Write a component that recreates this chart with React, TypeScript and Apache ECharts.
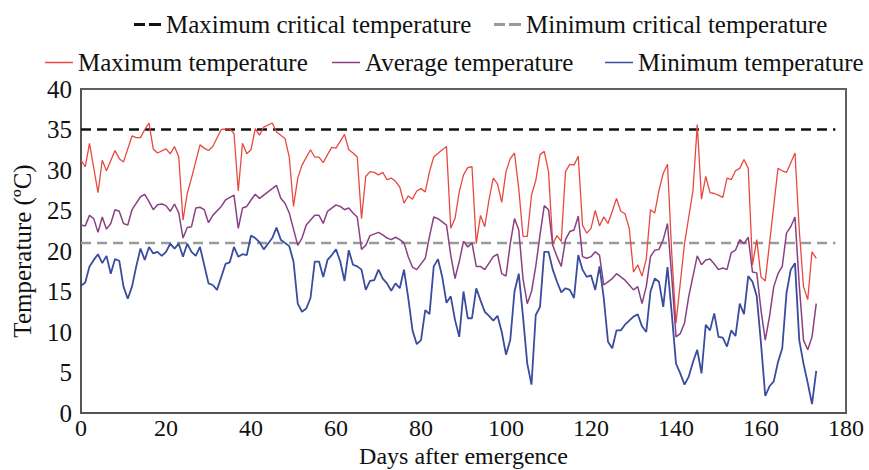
import { useEffect, useRef } from "react";
import * as echarts from "echarts";

// ---- data ----
const maxDays = [0,1,2,4,5,6,8,9,10,12,13,14,15,16,17,18,20,21,22,23,24,25,26,28,29,30,31,33,35,36,37,38,39,40,41,42,43,45,46,48,49,50,51,52,54,55,56,57,58,59,60,62,63,64,65,66,67,68,69,70,71,72,73,74,75,76,77,78,79,80,81,82,83,85,86,87,88,89,90,91,92,93,94,95,96,97,98,99,100,101,102,103,104,105,106,107,108,109,110,111,112,113,114,115,116,117,118,119,120,121,122,123,124,125,126,127,128,129,130,131,132,133,134,135,136,137,138,139,140,141,142,143,144,145,146,147,148,149,150,151,152,153,154,155,156,157,158,159,160,161,164,165,166,168,169,170,171,172,173];
const maxTemps = [31.2,30.4,33.3,27.2,31.2,29.9,32.4,31.4,31.0,34.2,34.0,34.0,35.0,35.8,32.6,32.1,32.6,32.0,32.9,31.6,23.8,27.1,29.0,33.1,32.7,32.4,32.9,35.0,35.1,34.5,27.4,33.3,32.0,32.5,35.1,34.3,35.3,35.8,34.7,33.9,31.6,25.5,29.0,30.6,32.5,31.6,31.6,30.9,31.9,32.8,32.7,34.4,32.5,32.1,31.6,24.0,29.2,29.8,29.7,29.4,29.7,28.8,29.0,28.6,27.9,25.9,26.8,26.4,27.4,27.7,27.3,29.8,31.6,32.5,32.9,22.8,24.0,27.3,29.4,30.3,30.4,20.9,24.4,23.0,26.3,29.0,28.3,26.0,29.8,31.4,32.1,27.7,21.8,21.8,26.9,28.7,31.9,32.3,29.8,20.9,21.9,21.2,29.8,30.7,30.6,31.7,23.2,22.2,22.8,25.0,23.1,24.2,23.4,24.9,26.5,24.9,24.6,22.8,17.4,18.3,16.9,19.0,25.1,24.7,27.5,29.6,30.7,19.7,11.1,16.0,20.9,24.2,27.5,35.6,26.4,29.2,27.2,27.1,26.9,26.6,29.0,28.8,29.9,30.2,31.3,30.2,18.3,21.4,16.8,16.3,30.2,29.9,29.7,32.1,22.6,15.6,14.0,19.9,19.1];

const avgDays = [0,1,2,3,4,5,6,7,8,9,10,11,12,14,15,16,17,18,19,20,21,22,23,24,25,26,27,28,29,30,31,33,34,36,37,38,39,40,41,42,44,46,47,48,49,51,52,53,55,56,57,58,60,61,62,63,64,65,66,67,68,70,71,72,73,74,75,76,77,78,79,81,82,83,84,86,87,88,89,90,91,92,93,94,95,96,97,98,99,100,101,102,103,104,105,106,107,108,109,110,111,112,113,114,115,116,117,118,119,120,121,122,123,124,125,126,127,128,129,130,131,132,133,134,135,136,137,138,139,140,141,142,143,145,146,147,148,149,150,151,152,153,154,155,156,157,158,159,160,161,162,163,164,165,166,167,168,169,170,171,172,173];
const avgTemps = [23.2,23.1,24.4,24.0,22.3,24.2,22.7,23.4,25.1,24.9,23.4,23.2,25.1,26.7,27.0,26.1,25.1,25.7,25.8,25.6,24.9,25.8,24.7,21.6,22.9,23.0,25.3,25.4,25.1,23.5,24.4,25.5,26.3,26.9,22.8,25.3,25.5,26.3,27.0,26.5,27.3,28.1,26.5,25.9,24.7,20.7,21.6,23.2,24.4,24.4,23.4,24.9,25.7,25.5,25.1,25.3,24.7,24.2,20.2,20.7,21.9,22.3,22.0,21.6,21.4,21.7,21.4,21.0,19.3,18.0,17.7,19.1,21.8,24.2,24.0,23.2,19.5,16.6,18.7,21.2,20.5,21.0,18.1,18.1,17.7,18.5,19.3,19.6,17.2,16.9,20.9,24.0,22.6,16.6,13.5,15.0,18.1,22.0,25.6,25.1,20.7,19.3,18.1,21.4,22.4,22.6,24.3,19.3,19.1,19.3,19.9,19.5,15.8,16.2,16.6,17.2,16.8,16.4,15.8,15.2,15.6,13.5,15.6,19.3,20.1,20.2,21.4,23.4,16.8,9.4,9.8,11.1,14.4,19.4,18.3,18.9,19.0,18.4,17.7,17.9,17.7,19.8,20.1,21.4,20.9,21.7,17.4,17.3,12.7,9.0,11.9,15.6,17.2,18.1,22.2,23.0,24.2,15.8,9.0,7.8,9.4,13.5];

const minDays = [0,1,2,3,4,5,6,7,8,9,10,11,12,13,14,15,16,17,18,19,20,21,22,23,24,25,26,27,28,30,31,32,33,34,35,36,37,38,39,40,41,42,43,44,45,46,47,49,50,51,52,53,54,55,56,57,58,59,60,61,62,63,64,65,66,67,68,69,70,71,72,73,74,75,76,77,78,79,80,81,82,83,84,85,86,87,88,89,90,91,92,93,94,95,96,97,98,99,100,101,102,103,104,105,106,107,108,109,110,111,112,113,114,115,116,117,118,119,120,121,122,123,124,125,126,127,128,129,130,131,132,133,134,135,136,137,138,139,140,141,142,143,144,145,146,147,148,149,150,151,152,153,154,155,156,157,158,159,160,161,162,163,164,165,166,167,168,169,170,171,172,173];
const minTemps = [15.7,16.1,18.1,18.9,19.6,18.5,19.4,17.2,19.0,18.8,15.6,14.1,15.6,18.1,20.3,18.9,20.5,19.7,19.9,19.4,19.9,20.9,20.3,20.9,19.3,20.9,19.9,19.4,20.5,16.0,15.8,15.2,16.8,18.4,18.6,20.5,19.3,19.6,19.5,21.9,21.6,21.1,20.2,20.9,21.6,22.9,21.4,20.6,18.7,13.5,12.5,12.9,14.2,18.7,18.7,16.8,18.9,19.5,20.2,18.7,16.3,20.1,18.3,18.1,17.7,15.2,16.3,16.4,17.7,16.6,16.0,15.1,16.0,15.4,17.7,14.2,10.2,8.5,9.0,12.7,12.2,18.1,19.0,16.8,13.6,14.4,11.5,9.4,15.0,11.7,11.7,15.4,13.9,12.5,12.0,11.4,12.0,10.0,7.2,9.0,15.0,17.2,11.9,6.1,3.5,12.1,13.1,19.9,19.9,17.7,16.2,14.9,15.4,15.2,14.2,19.5,17.7,16.8,17.0,15.2,18.1,14.2,8.8,8.0,10.2,10.2,10.9,11.4,11.9,12.2,10.7,10.0,15.0,16.6,16.2,13.1,18.0,12.3,6.1,4.9,3.5,4.5,6.3,7.8,4.9,10.9,10.2,12.3,9.4,9.3,8.2,10.2,9.5,13.5,12.2,16.9,16.2,14.4,8.6,2.1,3.3,3.9,6.3,8.0,14.8,17.7,18.5,9.0,6.1,3.7,1.1,5.2];

const criticalDays = [0, 177.5];
const maxCritical = [35, 35];
const minCritical = [21, 21];

const xTicks = { min: 0, max: 180, step: 20 };
const yTicks = { min: 0, max: 40, step: 5 };

const FONT = "'Liberation Serif', 'Times New Roman', serif";
const DASH_ICON = "path://M0,0H11V3H0Z M15,0H27V3H15Z";

const pairs = (xs: number[], ys: number[]) => xs.map((x, i) => [x, ys[i]]);

export default function App() {
  const ref = useRef<HTMLDivElement>(null);
  useEffect(() => {
    if (!ref.current) return;
    const chart = echarts.init(ref.current, null, { renderer: "svg" });
    const text = { fontFamily: FONT, fontSize: 25, color: "#111" };
    const xText = { fontFamily: FONT, fontSize: 24, color: "#111" };
    const legendBase = { padding: 0, textStyle: text, selectedMode: false, itemStyle: { borderWidth: 0 } };
    chart.setOption({
      animation: false,
      backgroundColor: "#fff",
      legend: [
        { ...legendBase, data: ["Maximum critical temperature"], left: 134, top: 12, itemWidth: 27, itemHeight: 3, icon: DASH_ICON },
        { ...legendBase, data: ["Minimum critical temperature"], left: 494, top: 12, itemWidth: 27, itemHeight: 3, icon: DASH_ICON },
        { ...legendBase, data: ["Maximum temperature"], left: 45, top: 50, itemWidth: 28, itemHeight: 1.5, icon: "rect" },
        { ...legendBase, data: ["Average temperature"], left: 332, top: 50, itemWidth: 28, itemHeight: 1.5, icon: "rect" },
        { ...legendBase, data: ["Minimum temperature"], left: 605, top: 50, itemWidth: 28, itemHeight: 1.5, icon: "rect" },
      ],
      grid: { left: 81, right: 23, top: 89, bottom: 57, show: true, borderColor: "#606060", borderWidth: 2, outerBoundsMode: "none", containLabel: false },
      xAxis: {
        type: "value",
        min: xTicks.min,
        max: xTicks.max,
        interval: xTicks.step,
        name: "Days after emergence",
        nameLocation: "middle",
        nameGap: 32,
        nameMoveOverlap: false,
        nameTextStyle: { ...xText, lineHeight: 22 },
        axisLine: { show: true, lineStyle: { color: "#555", width: 2 } },
        axisTick: { show: false },
        splitLine: { show: false },
        axisLabel: { ...xText, margin: 5, lineHeight: 20 },
      },
      yAxis: {
        type: "value",
        min: yTicks.min,
        max: yTicks.max,
        interval: yTicks.step,
        name: "Temperature (ºC)",
        nameLocation: "middle",
        nameGap: 46,
        nameMoveOverlap: false,
        nameTextStyle: text,
        axisLine: { show: true, lineStyle: { color: "#555", width: 2 } },
        axisTick: { show: false },
        splitLine: { show: false },
        axisLabel: { ...text, margin: 9 },
      },
      series: [
        {
          name: "Maximum critical temperature",
          type: "line",
          symbol: "none",
          data: pairs(criticalDays, maxCritical),
          lineStyle: { color: "#111", width: 2.5, type: [10, 6] },
          itemStyle: { color: "#111" },
          z: 3,
        },
        {
          name: "Minimum critical temperature",
          type: "line",
          symbol: "none",
          data: pairs(criticalDays, minCritical),
          lineStyle: { color: "#9a9a9a", width: 2.5, type: [10, 6] },
          itemStyle: { color: "#9a9a9a" },
          z: 3,
        },
        {
          name: "Maximum temperature",
          type: "line",
          symbol: "none",
          data: pairs(maxDays, maxTemps),
          lineStyle: { color: "#e8493f", width: 1.3 },
          itemStyle: { color: "#e8493f" },
        },
        {
          name: "Average temperature",
          type: "line",
          symbol: "none",
          data: pairs(avgDays, avgTemps),
          lineStyle: { color: "#8a4183", width: 1.5 },
          itemStyle: { color: "#8a4183" },
        },
        {
          name: "Minimum temperature",
          type: "line",
          symbol: "none",
          data: pairs(minDays, minTemps),
          lineStyle: { color: "#3a4c9f", width: 1.8 },
          itemStyle: { color: "#3a4c9f" },
        },
      ],
    });
    return () => chart.dispose();
  }, []);
  return <div ref={ref} style={{ position: "absolute", left: 0, top: 0, width: 869, height: 470 }} />;
}
